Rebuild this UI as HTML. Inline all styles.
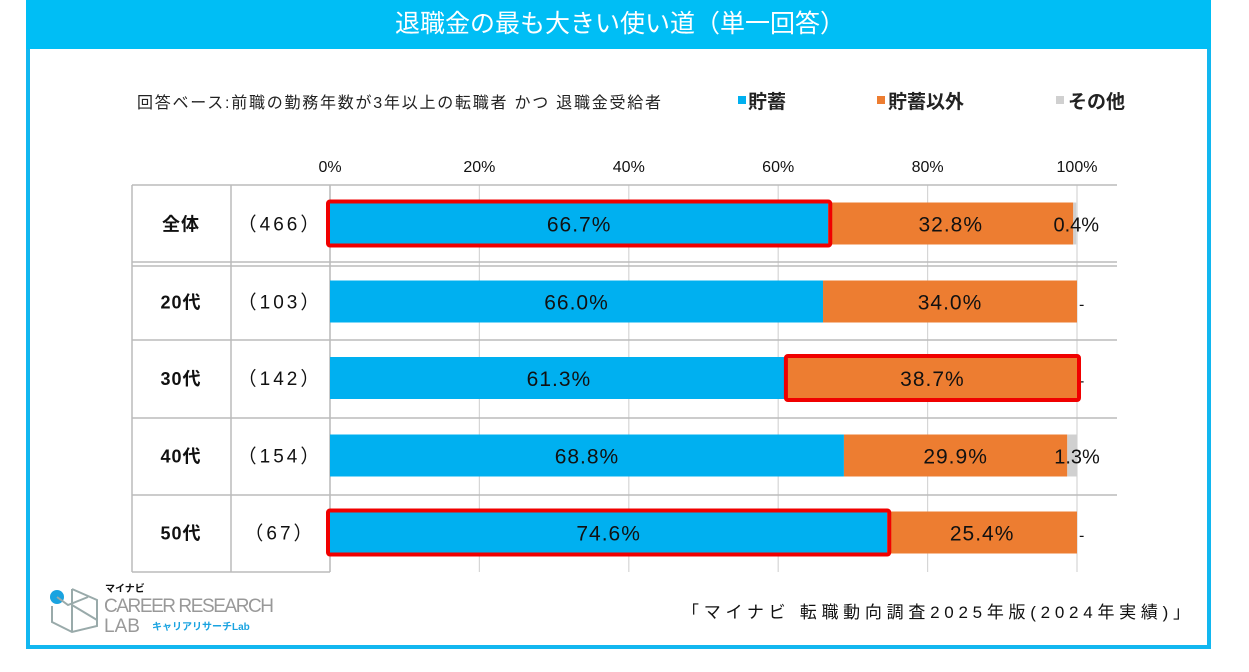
<!DOCTYPE html>
<html><head><meta charset="utf-8">
<style>
body{margin:0;background:#fff;font-family:"Liberation Sans","Noto Sans CJK JP",sans-serif;}
svg text{font-family:"Liberation Sans","Noto Sans CJK JP",sans-serif;}
</style></head>
<body>
<svg id="c" width="1249" height="667" viewBox="0 0 1249 667" xmlns="http://www.w3.org/2000/svg">
<rect x="28" y="2" width="1181" height="645" fill="#fff" stroke="#12B7F0" stroke-width="4"/>
<rect x="26" y="0" width="1185" height="49" fill="#00BEF5"/>
<text x="620" y="32" font-size="25" fill="#fff" text-anchor="middle">退職金の最も大きい使い道（単一回答）</text>
<text x="137" y="108" font-size="16" fill="#222" textLength="524">回答ベース:前職の勤務年数が3年以上の転職者  かつ  退職金受給者</text>
<g>
<g><rect x="738" y="96" width="8" height="8" fill="#00B0F0"/><text x="748" y="108" font-size="19" font-weight="bold" fill="#222">貯蓄</text></g>
<g><rect x="877" y="96" width="8" height="8" fill="#ED7D31"/><text x="888" y="108" font-size="19" font-weight="bold" fill="#222">貯蓄以外</text></g>
<g><rect x="1056" y="96" width="8" height="8" fill="#D0D0D0"/><text x="1068" y="108" font-size="19" font-weight="bold" fill="#222">その他</text></g>
</g>
<g id="plot"></g>
<text x="682" y="618" font-size="17" fill="#111" textLength="508">「マイナビ 転職動向調査2025年版(2024年実績)」</text>
<g>
<circle cx="57" cy="597" r="7" fill="#1AA3E0"/>
<path d="M57 597 L68 605 L88 597 M72 589 L97 600 L97 626 L72 632 L52 622 L52 606 M72 589 L72 632 M72 605 L97 620" fill="none" stroke="#9aa" stroke-width="2"/>
<text x="105" y="592" font-size="10" font-weight="bold" fill="#111">マイナビ</text>
<text x="104" y="612" font-size="19" fill="#999" textLength="170">CAREER RESEARCH</text>
<text x="104" y="632" font-size="19" fill="#999">LAB</text>
<text x="152" y="630" font-size="10" font-weight="bold" fill="#1AA3E0">キャリアリサーチLab</text>
</g>
</svg>
<script>
const categories=["全体","20代","30代","40代","50代"];
const counts=["（466）","（103）","（142）","（154）","（67）"];
const savings=[66.7,66.0,61.3,68.8,74.6];
const nonSavings=[32.8,34.0,38.7,29.9,25.4];
const other=[0.4,0,0,1.3,0];
const ticks=[0,20,40,60,80,100];
const highlights=[[0,"savings"],[2,"non"],[4,"savings"]];
const NS="http://www.w3.org/2000/svg";
const g=document.getElementById("plot");
const x0=330,x1=1077;
const xs=v=>x0+(x1-x0)*v/100;
const rowTop=[185,264,339,417,494],rowH=[77,75,78,77,77];
function mk(t,a,p){const e=document.createElementNS(NS,t);for(const k in a)e.setAttribute(k,a[k]);(p||g).appendChild(e);return e;}
ticks.forEach(t=>{
 const l=mk("line",{x1:xs(t),x2:xs(t),y1:185,y2:572,stroke:"#d6d6d6","stroke-width":1.2});
 
 
 const tx=mk("text",{x:xs(t),y:172,"font-size":16,"text-anchor":"middle",fill:"#111"});
 tx.textContent=t+"%";
 
 
});
[132,231,330].forEach(x=>{const l=mk("line",{x1:x,x2:x,y1:185,y2:572,stroke:"#bbb","stroke-width":1.5});});
[185,262,266,340,418,495,572].forEach((y,i)=>{const l=mk("line",{x1:132,x2:(i==6?330:1117),y1:y,y2:y,stroke:"#bbb","stroke-width":1.5});});
categories.forEach((c,i)=>{
 const cy=rowTop[i]+rowH[i]/2;
 const bt=cy-21,bh=42;
 const a=mk("text",{x:181,y:cy+7,"font-size":18,"font-weight":"bold","text-anchor":"middle",fill:"#111","letter-spacing":1});a.textContent=c;
 
 
 const b=mk("text",{x:280,y:cy+7,"font-size":19,"text-anchor":"middle",fill:"#111","letter-spacing":3});b.textContent=counts[i];
 
 
 const s1=xs(0),s2=xs(savings[i]),s3=xs(savings[i]+nonSavings[i]),s4=xs(savings[i]+nonSavings[i]+other[i]);
 const r1=mk("rect",{x:s1,y:bt,width:s2-s1,height:bh,fill:"#00B0F0"});
 
 
 const r2=mk("rect",{x:s2,y:bt,width:s3-s2,height:bh,fill:"#ED7D31"});
 
 
 const r3=mk("rect",{x:s3,y:bt,width:Math.max(0,s4-s3),height:bh,fill:"#D0D0D0"});
 
 
 const t1=mk("text",{x:(s1+s2)/2,y:cy+8,"font-size":21,"text-anchor":"middle",fill:"#111","letter-spacing":1});t1.textContent=savings[i].toFixed(1)+"%";
 
 
 const t2=mk("text",{x:(s2+s3)/2,y:cy+8,"font-size":21,"text-anchor":"middle",fill:"#111","letter-spacing":1});t2.textContent=nonSavings[i].toFixed(1)+"%";
 
 
 const t3=mk("text",{x:other[i]>0?s4:s4+2,y:cy+8,"font-size":other[i]>0?20:16,"text-anchor":other[i]>0?"middle":"start",fill:"#111"});
 t3.textContent=other[i]>0?other[i].toFixed(1)+"%":"-";
 
 
});
highlights.forEach(([i,k])=>{
 const cy=rowTop[i]+rowH[i]/2;
 let a,b;
 if(k==="savings"){a=xs(0);b=xs(savings[i]);}else{a=xs(savings[i]);b=xs(savings[i]+nonSavings[i]);}
 const r=mk("rect",{x:a-2,y:cy-22,width:b-a+4,height:44,fill:"none",stroke:"#F00000","stroke-width":4,rx:2});
 
 
});
</script>
</body></html>
